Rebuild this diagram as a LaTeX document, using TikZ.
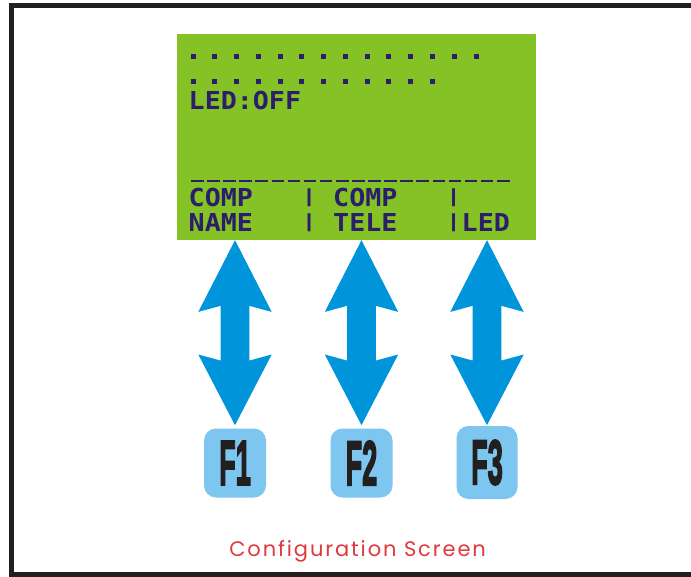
\documentclass[tikz,border=0pt]{standalone}
\usepackage{fontspec}
\setmainfont{Liberation Sans}
\newfontfamily\lcdfont{DejaVu Sans Mono Bold}
\newfontfamily\keyfont{Liberation Sans Bold}[FakeBold=3.5]
\newfontfamily\capfont{Poppins}[LetterSpace=9]
\newcommand\lsp{\hphantom{0}}
\newcommand\lbar{\raisebox{0.17em}{\scalebox{1}[0.73]{|}}}
\definecolor{framecol}{HTML}{231F20}
\definecolor{lcdgreen}{HTML}{84C225}
\definecolor{lcdink}{HTML}{2D1E6B}
\definecolor{arrowblue}{HTML}{0094DA}
\definecolor{keyblue}{HTML}{7CC6F0}
\definecolor{capred}{HTML}{E0393E}
\tikzset{
  lcdbox/.style={fill=lcdgreen, minimum width=359pt, minimum height=206pt, inner sep=0pt},
  lcdtxt/.style={text=lcdink, inner sep=0pt, anchor=base west, font=\lcdfont\fontsize{24.7}{26}\selectfont},
  fkey/.style={fill=keyblue, rounded corners=12pt, minimum width=62pt, minimum height=69pt, inner sep=0pt, text=framecol, font=\keyfont\fontsize{63}{63}\selectfont},
  blockarrow/.style={fill=arrowblue},
  captxt/.style={text=capred, inner sep=0pt, anchor=base, font=\capfont\fontsize{21}{24}\selectfont}
}
\begin{document}
\begin{tikzpicture}[x=1pt,y=-1pt]
\clip (0,0) rectangle (691,577);
\fill[white] (0,0) rectangle (691,577);
\draw[framecol, line width=5pt] (11.5,5.5) rectangle (720,574.5);
% LCD
\node[lcdbox] (lcd) at (356.5,137) {};
\foreach \i in {0,...,13} \fill[lcdink] ({193+\i*21.77-2.5},54.2) rectangle +(5,5);
\foreach \i in {0,...,11} \fill[lcdink] ({193+\i*21.77-2.5},79.5) rectangle +(5,5);
\node[lcdtxt] (led) at (188.5,110) {\scalebox{1.08}[1]{LED:OFF}};
\draw[lcdink, line width=2.6pt, dash pattern=on 12.6pt off 3.5pt] (191,181) -- (513,181);
\node[lcdtxt] (row3) at (188.5,207) {\scalebox{1.08}[1]{COMP\lsp\lsp\lsp\lbar\lsp COMP\lsp\lsp\lsp\lbar}};
\node[lcdtxt] (row4) at (188.5,232) {\scalebox{1.08}[1]{NAME\lsp\lsp\lsp\lbar\lsp TELE\lsp\lsp\lsp\lbar LED}};
% keys
\node[fkey] (f1) at (235,463) {\scalebox{0.43}[1]{F1}};
\node[fkey] (f2) at (361.5,463) {\scalebox{0.43}[1]{F2}};
\node[fkey, minimum width=61pt, minimum height=73pt] (f3) at (487,462.5) {\scalebox{0.43}[1]{F3}};
% arrows
\foreach \n in {f1,f2,f3}{
  \path[blockarrow, shift={(lcd.south -| \n.north)}]
    (0,0) -- (36.7,71.7) -- (14.3,65.6) -- (14.3,120.4) -- (36.7,114.3) -- (0,185)
    -- (-36.7,114.3) -- (-14.3,120.4) -- (-14.3,65.6) -- (-36.7,71.7) -- cycle;
}
% caption
\node[captxt] (cap) at (357.6,556) {Configuration Screen};
\end{tikzpicture}
\end{document}
